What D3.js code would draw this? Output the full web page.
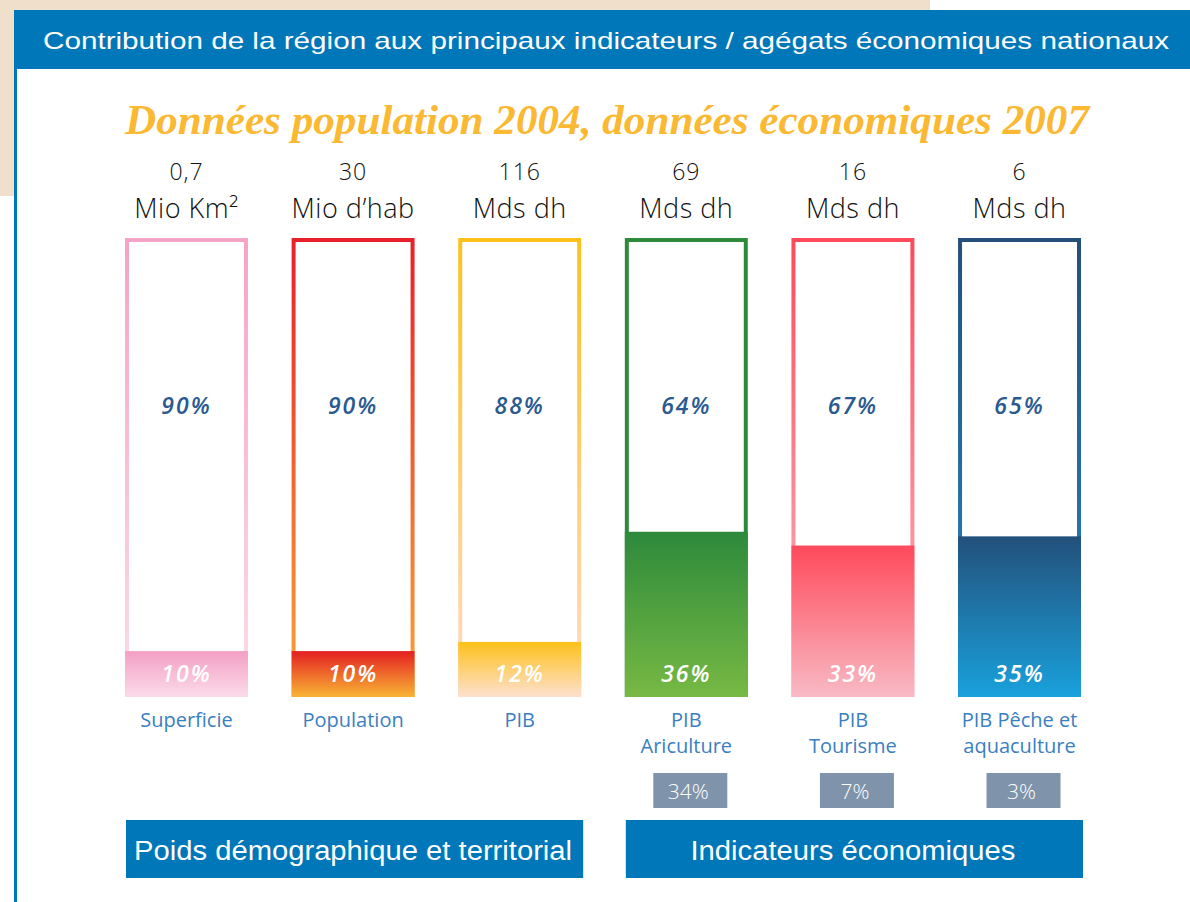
<!DOCTYPE html>
<html>
<head>
<meta charset="utf-8">
<script src="https://cdn.jsdelivr.net/npm/d3@7"></script>
<style>
  html, body { margin: 0; padding: 0; background: #fff; }
  svg { display: block; }
</style>
</head>
<body>
<svg width="1190" height="902"></svg>
<script>
// ---- Données
const valeurs = ['0,7', '30', '116', '69', '16', '6'];
const unites = ['Mio Km²', 'Mio d\u2019hab', 'Mds dh', 'Mds dh', 'Mds dh', 'Mds dh'];
const partsRegion = [10, 10, 12, 36, 33, 35];
const categories = [['Superficie'], ['Population'], ['PIB'], ['PIB', 'Ariculture'], ['PIB', 'Tourisme'], ['PIB Pêche et', 'aquaculture']];
const partsNationales = [null, null, null, 34, 7, 3];
const groupes = [
  { label: 'Poids démographique et territorial', de: 0, a: 2, largeur: 438 },
  { label: 'Indicateurs économiques', de: 3, a: 5, largeur: 325 }
];

// couleurs : [contour haut, contour bas, remplissage haut, remplissage bas]
const couleurs = [
  ['#f5a3c6', '#fbdde9', '#f39fc4', '#fbdbe9'],
  ['#e8202a', '#f7a638', '#e41f22', '#f9b534'],
  ['#fdc11c', '#fddcc9', '#fec11a', '#fde0cf'],
  ['#2d8a3c', '#2d8a3c', '#2d8a3b', '#77b944'],
  ['#ff4a5b', '#f9b9c4', '#ff4a5b', '#f8bac5'],
  ['#23507b', '#2489c4', '#23507b', '#19a1dc']
];

const svg = d3.select('svg');
const width = +svg.attr('width');
const height = +svg.attr('height');

// ---- Fond
svg.append('rect').attr('x', 0).attr('y', 0).attr('width', 930).attr('height', 196).attr('fill', '#f0dfca');
svg.append('rect').attr('x', 14).attr('y', 10).attr('width', width - 14).attr('height', height - 10).attr('fill', '#fff');
svg.append('rect').attr('x', 14).attr('y', 69).attr('width', 3).attr('height', height - 69).attr('fill', '#0077b8');

// ---- Bandeau
svg.append('rect').attr('x', 14).attr('y', 10).attr('width', width - 14).attr('height', 59).attr('fill', '#0077b8');
svg.append('text')
  .attr('x', 43).attr('y', 49)
  .attr('fill', '#fff')
  .style('font-family', '"Liberation Sans", Arial, sans-serif')
  .style('font-size', '24px')
  .attr('textLength', 1126)
  .attr('lengthAdjust', 'spacingAndGlyphs')
  .text('Contribution de la région aux principaux indicateurs / agégats économiques nationaux');

svg.append('text')
  .attr('x', 607).attr('y', 134)
  .attr('text-anchor', 'middle')
  .attr('fill', '#fbb832')
  .style('font-family', '"Liberation Serif", "DejaVu Serif", serif')
  .style('font-style', 'italic')
  .style('font-weight', 'bold')
  .style('font-size', '43px')
  .attr('textLength', 964)
  .attr('lengthAdjust', 'spacingAndGlyphs')
  .text('Données population 2004, données économiques 2007');

// ---- Echelles
const x = d3.scaleBand()
  .domain(d3.range(valeurs.length))
  .range([125, 1081])
  .paddingInner(0.262)
  .paddingOuter(0);

const y = d3.scaleLinear()
  .domain([0, 100])
  .range([697, 238]);

const bw = x.bandwidth();
const defs = svg.append('defs');

function degrade(id, haut, bas) {
  const lg = defs.append('linearGradient').attr('id', id)
    .attr('x1', 0).attr('y1', 0).attr('x2', 0).attr('y2', 1);
  lg.append('stop').attr('offset', '0%').attr('stop-color', haut);
  lg.append('stop').attr('offset', '100%').attr('stop-color', bas);
}

couleurs.forEach((c, i) => {
  degrade('contour' + i, c[0], c[1]);
  degrade('remplissage' + i, c[2], c[3]);
});

const font = '"Open Sans", Lato, sans-serif';

const barres = svg.selectAll('.barre')
  .data(partsRegion)
  .enter()
  .append('g')
  .attr('class', 'barre')
  .attr('transform', (d, i) => `translate(${x(i)},0)`);

// contour
barres.append('rect')
  .attr('x', 2)
  .attr('y', y(100) + 2)
  .attr('width', bw - 4)
  .attr('height', y(0) - y(100) - 4)
  .attr('fill', '#fff')
  .attr('stroke', (d, i) => `url(#contour${i})`)
  .attr('stroke-width', 4);

// part de la région
barres.append('rect')
  .attr('x', 0)
  .attr('y', d => y(d))
  .attr('width', bw)
  .attr('height', d => y(0) - y(d))
  .attr('fill', (d, i) => `url(#remplissage${i})`);

// pourcentages
barres.append('text')
  .attr('x', bw / 2)
  .attr('y', 414)
  .attr('text-anchor', 'middle')
  .attr('fill', '#2a5a8f')
  .style('font-family', font)
  .style('font-style', 'italic')
  .style('font-weight', 600)
  .style('font-size', '23px')
  .style('letter-spacing', '2px')
  .text(d => (100 - d) + '%');

barres.append('text')
  .attr('x', bw / 2)
  .attr('y', 682)
  .attr('text-anchor', 'middle')
  .attr('fill', '#fff')
  .style('font-family', font)
  .style('font-style', 'italic')
  .style('font-weight', 600)
  .style('font-size', '23px')
  .style('letter-spacing', '2px')
  .text(d => d + '%');

// valeurs et unités
barres.append('text')
  .attr('x', bw / 2)
  .attr('y', 180)
  .attr('text-anchor', 'middle')
  .attr('fill', '#111')
  .style('font-family', font)
  .style('font-weight', 300)
  .style('font-size', '23px')
  .style('letter-spacing', '1px')
  .text((d, i) => valeurs[i]);

barres.append('text')
  .attr('x', bw / 2)
  .attr('y', 218)
  .attr('text-anchor', 'middle')
  .attr('fill', '#111')
  .style('font-family', font)
  .style('font-weight', 300)
  .style('font-size', '27px')
  .style('letter-spacing', '0.5px')
  .text((d, i) => unites[i]);

// catégories
barres.each(function (d, i) {
  const t = d3.select(this).append('text')
    .attr('text-anchor', 'middle')
    .attr('fill', '#3a80c1')
    .style('font-family', font)
    .style('font-size', '20px');
  categories[i].forEach((ligne, k) => {
    t.append('tspan').attr('x', bw / 2).attr('y', 727 + k * 26).text(ligne);
  });
});

// part nationale
const nat = barres.filter((d, i) => partsNationales[i] !== null);
nat.append('rect')
  .attr('x', bw / 2 - 33)
  .attr('y', 773)
  .attr('width', 74)
  .attr('height', 35)
  .attr('fill', '#7f93aa');
nat.append('text')
  .attr('x', bw / 2 + 2)
  .attr('y', 799)
  .attr('text-anchor', 'middle')
  .attr('fill', '#fff')
  .style('font-family', font)
  .style('font-weight', 300)
  .style('font-size', '21px')
  .text((d, i) => partsNationales[i + 3] + '%');

// ---- Groupes
const gr = svg.selectAll('.groupe')
  .data(groupes)
  .enter()
  .append('g')
  .attr('class', 'groupe');

gr.append('rect')
  .attr('x', d => x(d.de) + 1)
  .attr('y', 820)
  .attr('width', d => x(d.a) + bw - x(d.de) + 1)
  .attr('height', 58)
  .attr('fill', '#0077b8');

gr.append('text')
  .attr('x', d => (x(d.de) + x(d.a) + bw) / 2)
  .attr('y', 860)
  .attr('text-anchor', 'middle')
  .attr('fill', '#fff')
  .style('font-family', '"Liberation Sans", Arial, sans-serif')
  .style('font-size', '27px')
  .attr('textLength', d => d.largeur)
  .attr('lengthAdjust', 'spacingAndGlyphs')
  .text(d => d.label);
</script>
</body>
</html>
